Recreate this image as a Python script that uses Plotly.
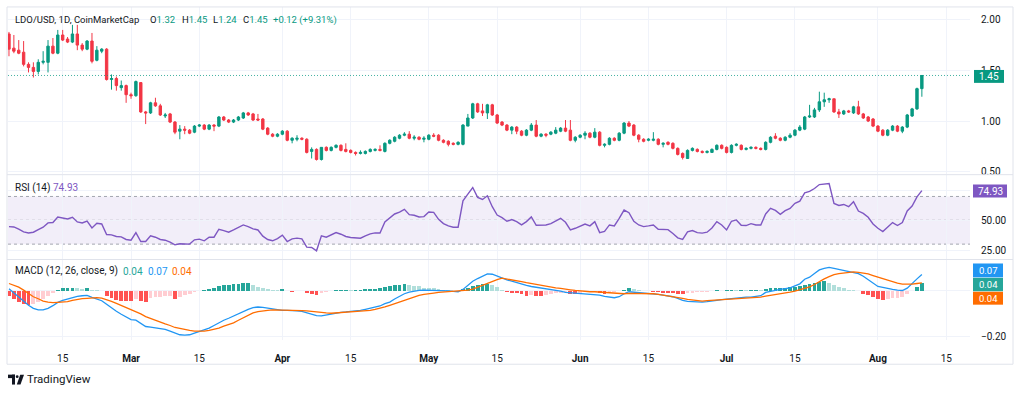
import plotly.graph_objects as go
import pandas as pd

W, H = 1024, 396


def fx(px):
    return px / W


def fy(py):
    return 1 - py / H


# ---------------- data ----------------
start_date = "2025-02-04"

opens = [1.86, 1.72, 1.70, 1.68, 1.56, 1.53, 1.49, 1.58, 1.58, 1.74,
         1.67, 1.85, 1.81, 1.78, 1.86, 1.75, 1.71, 1.79, 1.60, 1.69,
         1.71, 1.41, 1.42, 1.33, 1.35, 1.26, 1.25, 1.38, 1.09, 1.08,
         1.18, 1.15, 1.05, 1.07, 0.99, 0.90, 0.92, 0.91, 0.89, 0.95,
         0.96, 0.92, 0.96, 0.95, 1.04, 1.01, 0.99, 1.01, 1.03, 1.08,
         1.07, 1.02, 1.02, 0.93, 0.87, 0.85, 0.87, 0.90, 0.81, 0.82,
         0.83, 0.82, 0.70, 0.72, 0.62, 0.74, 0.71, 0.74, 0.76, 0.72,
         0.71, 0.69, 0.68, 0.68, 0.70, 0.71, 0.72, 0.70, 0.78, 0.80,
         0.83, 0.86, 0.87, 0.83, 0.84, 0.82, 0.82, 0.86, 0.86, 0.81,
         0.80, 0.78, 0.77, 0.77, 0.95, 1.03, 1.17, 1.10, 1.08, 1.16,
         1.06, 0.99, 0.96, 0.91, 0.94, 0.90, 0.86, 0.91, 0.96, 0.85,
         0.87, 0.87, 0.88, 0.90, 0.93, 0.91, 0.81, 0.84, 0.86, 0.88,
         0.84, 0.89, 0.76, 0.77, 0.83, 0.81, 0.88, 0.98, 0.96, 0.86,
         0.82, 0.81, 0.81, 0.82, 0.77, 0.79, 0.78, 0.73, 0.68, 0.63,
         0.71, 0.72, 0.70, 0.69, 0.69, 0.72, 0.76, 0.74, 0.69, 0.76,
         0.76, 0.72, 0.73, 0.74, 0.73, 0.72, 0.79, 0.85, 0.83, 0.81,
         0.84, 0.86, 0.91, 0.92, 1.04, 1.04, 1.11, 1.19, 1.21, 1.22,
         1.09, 1.07, 1.10, 1.08, 1.14, 1.07, 1.04, 1.02, 0.95, 0.91,
         0.86, 0.91, 0.95, 0.90, 0.94, 1.05, 1.12, 1.32]

highs = [1.88, 1.85, 1.80, 1.79, 1.58, 1.58, 1.61, 1.69, 1.80, 1.82,
         1.90, 1.90, 1.83, 1.95, 1.95, 1.77, 1.80, 1.87, 1.74, 1.72,
         1.72, 1.46, 1.44, 1.40, 1.36, 1.28, 1.40, 1.38, 1.10, 1.19,
         1.23, 1.17, 1.08, 1.08, 1.00, 0.96, 0.95, 0.92, 0.96, 0.97,
         0.97, 0.97, 0.97, 1.05, 1.05, 1.02, 1.02, 1.05, 1.09, 1.09,
         1.08, 1.07, 1.03, 0.94, 0.88, 0.88, 0.91, 0.91, 0.84, 0.86,
         0.84, 0.83, 0.74, 0.73, 0.74, 0.75, 0.75, 0.77, 0.77, 0.78,
         0.72, 0.70, 0.71, 0.71, 0.73, 0.73, 0.76, 0.79, 0.82, 0.85,
         0.87, 0.89, 0.90, 0.86, 0.85, 0.85, 0.87, 0.88, 0.87, 0.82,
         0.81, 0.79, 0.80, 0.97, 1.07, 1.18, 1.18, 1.17, 1.17, 1.17,
         1.07, 1.00, 0.97, 0.95, 0.95, 0.91, 0.92, 0.98, 1.01, 0.88,
         0.88, 0.90, 0.94, 0.94, 1.01, 1.01, 0.85, 0.87, 0.90, 0.89,
         0.93, 0.90, 0.78, 0.84, 0.84, 0.89, 0.99, 1.00, 0.97, 0.87,
         0.83, 0.83, 0.89, 0.83, 0.79, 0.80, 0.79, 0.74, 0.69, 0.72,
         0.74, 0.73, 0.71, 0.71, 0.73, 0.77, 0.77, 0.75, 0.77, 0.78,
         0.77, 0.74, 0.75, 0.75, 0.74, 0.80, 0.85, 0.88, 0.84, 0.85,
         0.88, 0.92, 0.96, 1.05, 1.16, 1.13, 1.29, 1.28, 1.23, 1.22,
         1.12, 1.11, 1.11, 1.15, 1.20, 1.08, 1.05, 1.03, 0.96, 0.92,
         0.92, 0.96, 0.96, 0.95, 1.07, 1.13, 1.33, 1.45]

lows = [1.64, 1.67, 1.66, 1.54, 1.48, 1.43, 1.46, 1.56, 1.48, 1.66,
        1.66, 1.79, 1.77, 1.77, 1.70, 1.69, 1.70, 1.57, 1.59, 1.67,
        1.40, 1.31, 1.30, 1.30, 1.18, 1.22, 1.24, 1.08, 0.97, 1.07,
        1.14, 1.05, 1.03, 0.98, 0.87, 0.82, 0.87, 0.87, 0.88, 0.94,
        0.91, 0.91, 0.90, 0.94, 1.00, 0.98, 0.98, 1.00, 1.02, 1.05,
        1.00, 1.00, 0.91, 0.86, 0.84, 0.84, 0.86, 0.80, 0.78, 0.80,
        0.81, 0.68, 0.63, 0.61, 0.61, 0.70, 0.70, 0.73, 0.70, 0.69,
        0.68, 0.66, 0.67, 0.67, 0.69, 0.70, 0.70, 0.69, 0.77, 0.79,
        0.82, 0.85, 0.82, 0.81, 0.81, 0.79, 0.81, 0.84, 0.80, 0.78,
        0.75, 0.76, 0.76, 0.76, 0.95, 1.02, 1.08, 1.05, 1.02, 1.05,
        0.97, 0.95, 0.90, 0.87, 0.87, 0.85, 0.85, 0.90, 0.84, 0.84,
        0.84, 0.86, 0.87, 0.89, 0.89, 0.80, 0.79, 0.83, 0.82, 0.83,
        0.83, 0.75, 0.74, 0.76, 0.80, 0.80, 0.87, 0.94, 0.85, 0.79,
        0.79, 0.80, 0.80, 0.76, 0.74, 0.76, 0.72, 0.66, 0.62, 0.63,
        0.70, 0.69, 0.68, 0.68, 0.69, 0.71, 0.72, 0.68, 0.68, 0.75,
        0.71, 0.71, 0.72, 0.72, 0.71, 0.71, 0.78, 0.82, 0.80, 0.80,
        0.83, 0.85, 0.90, 0.91, 1.03, 1.03, 1.09, 1.14, 1.18, 1.08,
        1.03, 1.06, 1.08, 1.07, 1.06, 1.02, 0.99, 0.94, 0.89, 0.85,
        0.85, 0.90, 0.89, 0.88, 0.93, 1.04, 1.11, 1.24]

closes = [1.71, 1.69, 1.67, 1.56, 1.53, 1.49, 1.58, 1.59, 1.74, 1.67,
          1.85, 1.80, 1.78, 1.86, 1.75, 1.71, 1.79, 1.59, 1.70, 1.71,
          1.41, 1.42, 1.35, 1.35, 1.26, 1.25, 1.39, 1.09, 1.08, 1.18,
          1.15, 1.06, 1.06, 0.99, 0.89, 0.92, 0.91, 0.88, 0.95, 0.96,
          0.92, 0.96, 0.95, 1.04, 1.01, 0.99, 1.01, 1.04, 1.08, 1.06,
          1.01, 1.01, 0.92, 0.87, 0.85, 0.87, 0.90, 0.81, 0.83, 0.83,
          0.82, 0.69, 0.72, 0.62, 0.74, 0.71, 0.74, 0.76, 0.71, 0.70,
          0.69, 0.68, 0.69, 0.70, 0.72, 0.72, 0.71, 0.78, 0.81, 0.84,
          0.86, 0.87, 0.83, 0.84, 0.82, 0.83, 0.86, 0.85, 0.81, 0.79,
          0.77, 0.77, 0.79, 0.96, 1.03, 1.17, 1.09, 1.08, 1.16, 1.06,
          0.98, 0.96, 0.91, 0.94, 0.90, 0.86, 0.91, 0.96, 0.85, 0.87,
          0.86, 0.89, 0.91, 0.93, 0.90, 0.81, 0.84, 0.86, 0.88, 0.84,
          0.89, 0.76, 0.77, 0.83, 0.81, 0.88, 0.98, 0.95, 0.86, 0.82,
          0.80, 0.82, 0.82, 0.77, 0.78, 0.77, 0.73, 0.67, 0.64, 0.71,
          0.73, 0.70, 0.69, 0.70, 0.72, 0.76, 0.73, 0.69, 0.76, 0.77,
          0.72, 0.73, 0.74, 0.73, 0.72, 0.79, 0.84, 0.83, 0.81, 0.84,
          0.86, 0.91, 0.94, 1.04, 1.05, 1.11, 1.19, 1.21, 1.22, 1.09,
          1.07, 1.10, 1.09, 1.14, 1.07, 1.03, 1.00, 0.95, 0.90, 0.86,
          0.91, 0.95, 0.90, 0.94, 1.06, 1.12, 1.32, 1.45]

rsi_values = [44.7, 44.4, 42.5, 40.3, 39.4, 40.0, 42.2, 44.2, 47.8, 48.1,
              52.8, 51.7, 51.1, 52.5, 48.6, 47.8, 49.4, 43.6, 47.5, 46.9,
              38.1, 37.8, 36.4, 36.1, 33.9, 33.3, 39.7, 32.2, 32.2, 36.9,
              35.8, 33.9, 33.3, 31.7, 29.4, 30.3, 30.3, 30.0, 33.6, 34.2,
              32.8, 35.8, 35.8, 42.5, 41.4, 40.0, 41.9, 43.9, 46.1, 44.7,
              42.8, 41.9, 36.7, 33.9, 32.8, 34.7, 37.5, 32.2, 34.4, 35.0,
              34.4, 27.5, 27.2, 24.4, 36.9, 35.8, 37.5, 39.7, 38.3, 36.4,
              35.6, 35.0, 35.0, 36.9, 38.6, 39.4, 39.4, 48.6, 52.2, 55.3,
              56.9, 59.2, 54.7, 54.2, 52.8, 53.1, 56.9, 56.7, 50.8, 47.2,
              45.3, 44.2, 44.2, 66.4, 71.9, 77.5, 69.2, 67.5, 70.6, 61.4,
              54.4, 52.2, 49.2, 50.6, 48.9, 46.1, 48.9, 52.8, 45.8, 46.1,
              46.1, 47.2, 49.7, 51.7, 48.3, 41.9, 43.3, 45.3, 46.9, 45.3,
              48.9, 39.7, 40.6, 46.1, 45.3, 51.7, 58.6, 56.4, 49.2, 46.1,
              44.7, 45.3, 46.1, 42.5, 42.5, 42.2, 38.9, 35.3, 33.9, 40.3,
              41.4, 39.7, 39.2, 40.0, 43.6, 48.9, 46.1, 41.9, 49.2, 50.3,
              45.8, 45.6, 47.2, 46.1, 46.1, 55.3, 60.0, 58.3, 55.0, 58.1,
              60.0, 64.2, 66.1, 73.1, 74.2, 76.7, 80.0, 80.3, 80.8, 64.2,
              62.5, 63.3, 61.4, 65.6, 57.8, 55.8, 52.5, 46.9, 43.3, 40.6,
              44.7, 48.1, 45.6, 48.1, 57.8, 61.9, 69.7, 74.93]

macd_line = [0.0087, -0.0101, -0.029, -0.0478, -0.0638, -0.0768, -0.084, -0.084, -0.0768, -0.0652,
             -0.0507, -0.042, -0.0362, -0.0275, -0.0246, -0.0217, -0.0203, -0.029, -0.0348, -0.0435,
             -0.0594, -0.0753, -0.0898, -0.1029, -0.1159, -0.1261, -0.129, -0.1435, -0.1565, -0.1594,
             -0.1623, -0.1666, -0.1695, -0.1768, -0.1855, -0.1927, -0.1942, -0.1927, -0.1855, -0.1782,
             -0.171, -0.1637, -0.1521, -0.1391, -0.129, -0.1203, -0.1101, -0.0985, -0.0898, -0.0811,
             -0.0739, -0.071, -0.0725, -0.0753, -0.0811, -0.084, -0.0855, -0.0855, -0.0884, -0.0884,
             -0.0898, -0.0956, -0.1029, -0.1087, -0.1101, -0.1058, -0.1014, -0.0956, -0.0942, -0.0927,
             -0.0913, -0.0884, -0.0855, -0.0811, -0.0768, -0.0725, -0.0667, -0.0565, -0.0493, -0.0362,
             -0.0232, -0.013, -0.0058, -0.0014, 0.0014, 0.0029, 0.0029, 0.0029, 0.0029, 0.0029,
             0.0, -0.0029, -0.0043, 0.0058, 0.0246, 0.042, 0.0536, 0.0638, 0.0739, 0.0725,
             0.0638, 0.0536, 0.0478, 0.042, 0.0348, 0.029, 0.0232, 0.0188, 0.0159, 0.013,
             0.0087, 0.0058, 0.0014, -0.0014, -0.0072, -0.0087, -0.0116, -0.013, -0.0145, -0.0159,
             -0.0174, -0.0188, -0.0246, -0.029, -0.0304, -0.0261, -0.013, -0.0043, -0.0058, -0.0072,
             -0.0087, -0.0101, -0.013, -0.0159, -0.0188, -0.0217, -0.0261, -0.0333, -0.042, -0.0464,
             -0.0478, -0.0493, -0.0493, -0.0478, -0.0464, -0.042, -0.0391, -0.0362, -0.0348, -0.0304,
             -0.0275, -0.0275, -0.0275, -0.0246, -0.0217, -0.0072, -0.0043, 0.0014, 0.0058, 0.0101,
             0.013, 0.0217, 0.0304, 0.0507, 0.0594, 0.0753, 0.0913, 0.0985, 0.1029, 0.0985,
             0.0942, 0.0884, 0.084, 0.0811, 0.0753, 0.0638, 0.0478, 0.0319, 0.0188, 0.0145,
             0.0087, 0.0058, 0.0029, 0.0014, 0.0116, 0.0333, 0.0522, 0.071]

signal_line = [0.0319, 0.0246, 0.0159, 0.0029, -0.0116, -0.0261, -0.0348, -0.0449, -0.0493, -0.0522,
               -0.0507, -0.0493, -0.0478, -0.042, -0.0377, -0.0348, -0.0333, -0.0304, -0.0304, -0.0319,
               -0.0377, -0.0464, -0.0551, -0.0638, -0.0739, -0.0826, -0.0913, -0.1014, -0.113, -0.1217,
               -0.1304, -0.1377, -0.1449, -0.1521, -0.1608, -0.1652, -0.171, -0.1739, -0.1768, -0.1782,
               -0.1768, -0.1739, -0.1695, -0.1637, -0.155, -0.1478, -0.1406, -0.129, -0.1174, -0.1072,
               -0.0971, -0.0913, -0.0869, -0.0855, -0.084, -0.084, -0.084, -0.084, -0.084, -0.0855,
               -0.0869, -0.0884, -0.0913, -0.0942, -0.0956, -0.0971, -0.0985, -0.0971, -0.0971, -0.0956,
               -0.0942, -0.0927, -0.0913, -0.0884, -0.0855, -0.0811, -0.0768, -0.071, -0.0638, -0.0565,
               -0.0478, -0.0406, -0.0333, -0.0275, -0.0203, -0.0159, -0.0116, -0.0101, -0.0072, -0.0058,
               -0.0029, -0.0029, -0.0014, 0.0, 0.0029, 0.0072, 0.0159, 0.0232, 0.0333, 0.042,
               0.0493, 0.0551, 0.0522, 0.0493, 0.0449, 0.0406, 0.0362, 0.0319, 0.0275, 0.0246,
               0.0203, 0.0174, 0.013, 0.0101, 0.0058, 0.0043, 0.0014, -0.0014, -0.0029, -0.0043,
               -0.0043, -0.0058, -0.0087, -0.0101, -0.0116, -0.013, -0.013, -0.0116, -0.0116, -0.0116,
               -0.0116, -0.0116, -0.013, -0.0159, -0.0188, -0.0217, -0.0261, -0.0304, -0.0333, -0.0377,
               -0.0406, -0.0435, -0.0449, -0.0435, -0.042, -0.0406, -0.0391, -0.0377, -0.0362, -0.0348,
               -0.0333, -0.0319, -0.0304, -0.0304, -0.0275, -0.0232, -0.0203, -0.0159, -0.013, -0.0087,
               -0.0058, -0.0014, 0.0043, 0.0101, 0.0174, 0.0275, 0.0406, 0.0522, 0.0623, 0.071,
               0.0753, 0.0782, 0.0811, 0.0826, 0.0811, 0.0782, 0.0739, 0.0667, 0.0594, 0.0522,
               0.0449, 0.0377, 0.0333, 0.029, 0.0275, 0.029, 0.0319, 0.0348]

macd_hist = [-0.022, -0.036, -0.048, -0.058, -0.062, -0.058, -0.051, -0.036, -0.025, -0.010,
             0.004, 0.010, 0.012, 0.014, 0.010, 0.007, 0.010, 0.003, 0.002, 0.001,
             -0.025, -0.033, -0.039, -0.043, -0.045, -0.046, -0.036, -0.046, -0.048, -0.033,
             -0.029, -0.026, -0.025, -0.024, -0.036, -0.026, -0.019, -0.014, -0.007, -0.002,
             0.003, 0.007, 0.013, 0.022, 0.026, 0.027, 0.029, 0.030, 0.032, 0.036,
             0.026, 0.017, 0.013, 0.007, 0.003, 0.002, 0.006, 0.001, -0.004, -0.003,
             -0.002, -0.010, -0.012, -0.019, -0.010, -0.004, -0.001, 0.003, 0.003, 0.004,
             0.003, 0.005, 0.005, 0.006, 0.007, 0.009, 0.010, 0.017, 0.022, 0.025,
             0.026, 0.030, 0.025, 0.022, 0.019, 0.014, 0.012, 0.010, 0.007, 0.004,
             0.002, 0.001, -0.003, 0.007, 0.014, 0.022, 0.026, 0.029, 0.031, 0.025,
             0.015, 0.004, -0.004, -0.008, -0.010, -0.016, -0.021, -0.020, -0.023, -0.025,
             -0.018, -0.013, -0.010, -0.008, -0.007, -0.012, -0.016, -0.010, -0.007, -0.005,
             -0.004, -0.010, -0.014, -0.010, -0.005, -0.002, 0.004, 0.010, 0.008, 0.004,
             0.001, -0.003, -0.005, -0.007, -0.008, -0.009, -0.010, -0.012, -0.013, -0.010,
             -0.008, -0.006, -0.005, -0.004, -0.002, 0.002, 0.001, 0.002, 0.004, 0.003,
             0.004, 0.003, 0.004, 0.005, 0.004, 0.008, 0.010, 0.012, 0.013, 0.014,
             0.015, 0.018, 0.022, 0.027, 0.030, 0.034, 0.038, 0.041, 0.032, 0.025,
             0.017, 0.010, 0.005, 0.002, -0.003, -0.012, -0.020, -0.028, -0.036, -0.040,
             -0.036, -0.033, -0.030, -0.026, -0.016, -0.003, 0.018, 0.036]

tick_dates = ["2025-02-15", "2025-03-01", "2025-03-15", "2025-04-01", "2025-04-15",
              "2025-05-01", "2025-05-15", "2025-06-01", "2025-06-15", "2025-07-01",
              "2025-07-15", "2025-08-01", "2025-08-15"]
tick_labels = ["15", "<b>Mar</b>", "15", "<b>Apr</b>", "15", "<b>May</b>", "15",
               "<b>Jun</b>", "15", "<b>Jul</b>", "15", "<b>Aug</b>", "15"]

price_ticks = [0.5, 1.0, 1.5, 2.0]
price_tick_text = ["0.50", "1.00", "1.50", "2.00"]
rsi_ticks = [25, 50, 75]
rsi_tick_text = ["25.00", "50.00", ""]
macd_ticks = [-0.2, 0.0]
macd_tick_text = ["\u22120.20", ""]

last_price = 1.45

# ---------------- style ----------------
UP = "#089981"
DOWN = "#F23645"
TXT = "#131722"
GRID = "#F0F3FA"
BORDER = "#E0E3EB"
RSI_C = "#7E57C2"
MACD_C = "#2196F3"
SIG_C = "#FF6D00"
FONT = "Roboto, 'Liberation Sans', sans-serif"

dates = pd.date_range(start_date, periods=len(closes), freq="D")

hist_colors = []
for i, v in enumerate(macd_hist):
    prev = macd_hist[i - 1] if i > 0 else v
    if v >= 0:
        hist_colors.append("#26A69A" if v >= prev else "#B2DFDB")
    else:
        hist_colors.append("#FFCDD2" if v > prev else "#FF5252")

fig = go.Figure()

fig.add_trace(go.Candlestick(
    x=dates, open=opens, high=highs, low=lows, close=closes,
    increasing=dict(line=dict(color=UP, width=1), fillcolor=UP),
    decreasing=dict(line=dict(color=DOWN, width=1), fillcolor=DOWN),
    xaxis="x", yaxis="y", showlegend=False, hoverinfo="skip",
))

fig.add_trace(go.Scatter(
    x=dates, y=rsi_values, mode="lines", line=dict(color=RSI_C, width=1.4),
    xaxis="x2", yaxis="y2", showlegend=False, hoverinfo="skip",
))

fig.add_trace(go.Bar(
    x=dates, y=macd_hist, marker=dict(color=hist_colors, line=dict(width=0)),
    width=0.78 * 86400000, xaxis="x3", yaxis="y3", showlegend=False, hoverinfo="skip",
))
fig.add_trace(go.Scatter(
    x=dates, y=macd_line, mode="lines", line=dict(color=MACD_C, width=1.3),
    xaxis="x3", yaxis="y3", showlegend=False, hoverinfo="skip",
))
fig.add_trace(go.Scatter(
    x=dates, y=signal_line, mode="lines", line=dict(color=SIG_C, width=1.3),
    xaxis="x3", yaxis="y3", showlegend=False, hoverinfo="skip",
))

x_range = ["2025-02-03 19:12", "2025-08-19 20:38"]
x_dom = [fx(8), fx(970)]

common_x = dict(
    type="date", range=x_range, domain=x_dom, tickvals=tick_dates, ticktext=tick_labels,
    showgrid=True, gridcolor=GRID, gridwidth=1, zeroline=False, showline=False,
    fixedrange=True,
)

fig.update_layout(
    width=W, height=H,
    margin=dict(l=0, r=0, t=0, b=0),
    paper_bgcolor="white", plot_bgcolor="white",
    font=dict(family=FONT, size=10, color=TXT),
    bargap=0,
    xaxis=dict(common_x, anchor="y", showticklabels=False, rangeslider=dict(visible=False)),
    xaxis2=dict(common_x, anchor="y2", showticklabels=False, matches="x"),
    xaxis3=dict(common_x, anchor="y3", showticklabels=True, matches="x",
                ticks="outside", ticklen=9, tickcolor="rgba(0,0,0,0)",
                tickfont=dict(family=FONT, size=10, color=TXT)),
    yaxis=dict(domain=[fy(175), fy(7)], range=[0.480, 2.127], side="right", anchor="x",
               tickvals=price_ticks, ticktext=price_tick_text, showgrid=True, gridcolor=GRID,
               zeroline=False, ticks="outside", ticklen=8, tickcolor="rgba(0,0,0,0)",
               tickfont=dict(family=FONT, size=10, color=TXT), fixedrange=True),
    yaxis2=dict(domain=[fy(261), fy(176)], range=[17.5, 88.3], side="right", anchor="x2",
                tickvals=rsi_ticks, ticktext=rsi_tick_text, showgrid=True, gridcolor=GRID,
                zeroline=False, ticks="outside", ticklen=8, tickcolor="rgba(0,0,0,0)",
                tickfont=dict(family=FONT, size=10, color=TXT), fixedrange=True),
    yaxis3=dict(domain=[fy(343), fy(262)], range=[-0.2174, 0.1348], side="right", anchor="x3",
                tickvals=macd_ticks, ticktext=macd_tick_text, showgrid=True, gridcolor=GRID,
                zeroline=False, ticks="outside", ticklen=8, tickcolor="rgba(0,0,0,0)",
                tickfont=dict(family=FONT, size=10, color=TXT), fixedrange=True),
)

shapes = []
# RSI band and guide lines
shapes.append(dict(type="rect", xref="x2 domain", yref="y2", x0=0, x1=1, y0=30, y1=70,
                   fillcolor="rgba(126,87,194,0.10)", line=dict(width=0), layer="below"))
for lvl in (70, 50, 30):
    shapes.append(dict(type="line", xref="x2 domain", yref="y2", x0=0, x1=1, y0=lvl, y1=lvl,
                       line=dict(color="#A3A6AF", width=1, dash="3px,3px"), layer="below"))
# last price dotted line
shapes.append(dict(type="line", xref="x domain", yref="y", x0=0, x1=1, y0=last_price, y1=last_price,
                   line=dict(color="rgba(8,153,129,0.75)", width=1, dash="1px,2px")))
# frame and pane separators
shapes.append(dict(type="rect", xref="paper", yref="paper", x0=fx(7), x1=fx(1013), y0=fy(367), y1=fy(7),
                   line=dict(color=BORDER, width=1), fillcolor="rgba(0,0,0,0)"))
for py in (176, 261.5):
    shapes.append(dict(type="line", xref="paper", yref="paper", x0=fx(7), x1=fx(1013), y0=fy(py), y1=fy(py),
                       line=dict(color=BORDER, width=1)))


# axis value boxes
def box(x0, x1, y0, y1, color):
    return dict(type="rect", xref="paper", yref="paper", x0=fx(x0), x1=fx(x1), y0=fy(y1), y1=fy(y0),
                fillcolor=color, line=dict(width=0), layer="above")


shapes.append(box(974, 1004, 70.5, 83.5, UP))
shapes.append(box(973, 1007, 186, 199, RSI_C))
shapes.append(box(973, 1003, 265.5, 279.5, MACD_C))
shapes.append(box(973, 1003, 280, 293.5, "#26A69A"))
shapes.append(box(973, 1003, 294, 307, SIG_C))

# TradingView logo
shapes.append(dict(type="rect", xref="paper", yref="paper", x0=fx(8), x1=fx(15), y0=fy(381), y1=fy(377.5),
                   fillcolor=TXT, line=dict(width=0)))
shapes.append(dict(type="rect", xref="paper", yref="paper", x0=fx(12), x1=fx(15), y0=fy(387.5), y1=fy(377.5),
                   fillcolor=TXT, line=dict(width=0)))
shapes.append(dict(type="circle", xref="paper", yref="paper", x0=fx(15.8), x1=fx(18.6), y0=fy(381), y1=fy(378.2),
                   fillcolor=TXT, line=dict(width=0)))
shapes.append(dict(type="path", xref="paper", yref="paper",
                   path="M %f,%f L %f,%f L %f,%f L %f,%f Z" % (fx(20.2), fy(377.5), fx(24), fy(377.5),
                                                               fx(20.5), fy(387.5), fx(16.8), fy(387.5)),
                   fillcolor=TXT, line=dict(width=0)))

fig.update_layout(shapes=shapes)

ann = []


def text(x, y, t, color=TXT, size=10, anchor="left"):
    ann.append(dict(xref="paper", yref="paper", x=fx(x), y=fy(y), text=t, showarrow=False,
                    xanchor=anchor, yanchor="middle", borderpad=0,
                    font=dict(family=FONT, size=size, color=color)))


G = "<span style='color:%s'>%%s</span>" % UP
text(14, 20, "LDO/USD, 1D, CoinMarketCap", size=9.5)
text(149, 20, "O" + G % "1.32", size=9.5)
text(181, 20, "H" + G % "1.45", size=9.5)
text(212, 20, "L" + G % "1.24", size=9.5)
text(242, 20, "C" + G % "1.45", size=9.5)
text(272, 20, "+0.12 (+9.31%)", color=UP, size=9.5)

text(14, 189, "RSI (14)")
text(52, 189, "74.93", color=RSI_C)

text(14, 273.5, "MACD (12, 26, close, 9)")
text(122, 273.5, "0.04", color="#26A69A")
text(147, 273.5, "0.07", color=MACD_C)
text(171, 273.5, "0.04", color=SIG_C)

text(989, 77.5, "1.45", color="white", anchor="center")
text(990, 192.5, "74.93", color="white", anchor="center")
text(988, 272.5, "0.07", color="white", size=9.5, anchor="center")
text(988, 286.8, "0.04", color="white", size=9.5, anchor="center")
text(988, 300.5, "0.04", color="white", size=9.5, anchor="center")

text(26, 382, "TradingView", size=11.5)

fig.update_layout(annotations=ann)

fig.write_html("out.html",
               config={"displayModeBar": False, "staticPlot": True},
               post_script="document.body.style.margin='0px';document.body.style.overflow='hidden';")
